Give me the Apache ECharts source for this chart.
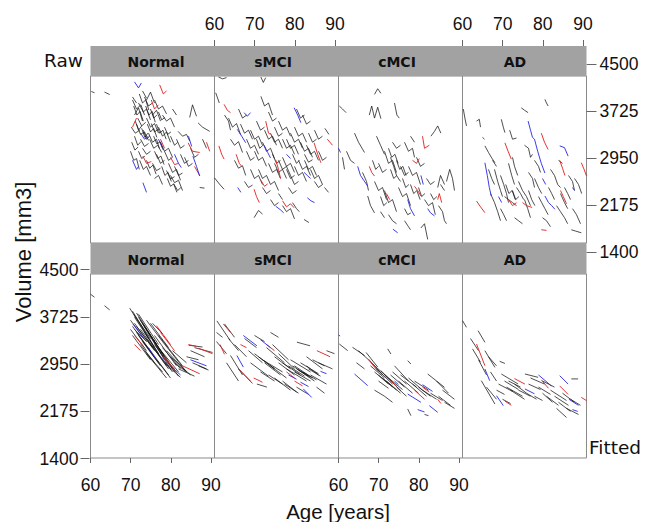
<!DOCTYPE html>
<html><head><meta charset="utf-8">
<script src="https://cdn.jsdelivr.net/npm/echarts@6/dist/echarts.min.js"></script>
<style>html,body{margin:0;padding:0;background:#fff}#c{width:648px;height:522px}</style>
</head><body><div id="c"></div>
<script>
// ---------------- data ----------------
const groups = ['Normal', 'sMCI', 'cMCI', 'AD'];
const rowLabels = ['Raw', 'Fitted'];
const xTickValues = [60, 70, 80, 90];
const yTickValues = [1400, 2175, 2950, 3725, 4500];
const xTitle = 'Age [years]';
const yTitle = 'Volume [mm3]';

// each trajectory: [age, volume, age, volume, ...]
const rawNormalK = [
 [60.2,4090,61.0,4070],[63.5,4080,64.8,4040],[70.5,3950,71.5,3800,72.6,3870,73.5,3700],
 [71.0,3700,72.0,3820,73.0,3600],[72.0,3900,73.2,3750,74.0,3800,75.0,3620],[73.5,4000,74.5,3850,75.5,3900],
 [74.0,3650,75.0,3500,76.0,3560,77.0,3400],[70.2,3500,71.2,3400,72.3,3450],[71.5,3550,72.5,3380,73.5,3420,74.5,3280],
 [75.5,3700,76.5,3780,77.5,3600],[76.0,3950,77.0,3800,78.0,3850,79.0,3720],[72.5,3300,73.5,3180,74.5,3230],
 [77.0,3500,78.0,3350,79.0,3420,80.0,3250],[74.5,3400,75.5,3250,76.5,3300,77.2,3150],[73.0,3150,74.0,3050,75.0,3100],
 [70.0,3100,70.8,2950,71.5,2980,72.2,2800],[72.3,2950,73.2,2800,74.0,2850,75.0,2700],[75.5,2900,76.5,2780,77.5,2820],
 [76.0,2650,77.0,2700,78.0,2550],[79.5,2900,80.5,2750,81.5,2800,82.5,2620],[80.0,2700,81.0,2580,82.0,2620,83.0,2450],
 [81.0,2850,82.0,2700,83.0,2740],[78.5,3100,79.5,2950,80.5,3000],[81.9,3430,83.0,3350,84.0,3380,84.8,3270],
 [84.8,3660,85.5,3870,86.5,3680],[86.9,3570,88.0,3500,89.8,3430],[87.3,2500,88.5,2490],[82.5,3050,83.5,2900,84.5,2950],
 [85.0,3150,86.0,3000,87.0,3050],[78.0,3700,79.0,3600,80.0,3650,81.0,3500],[74.0,3950,75.0,4080,76.0,3900],
 [73.0,4100,74.0,3980],[80.5,3800,81.5,3700],[77.5,3250,78.5,3100,79.5,3150,80.5,3000],[83.5,3000,84.5,2850,85.5,2900],
 [76.5,3050,77.5,2900,78.5,2950],[71.8,3650,72.8,3520,73.8,3580],[74.8,3300,75.8,3150,76.8,3200,77.8,3080],
 [88.0,3300,89.0,3150],[70.5,4000,71.5,3900],[72.8,3480,73.6,3330,74.3,3400],[75.2,3560,76.0,3420,77.0,3470],
 [79.0,2780,80.0,2640,81.0,2680],[80.8,2560,81.8,2450,82.6,2500],
 [70.8,3850,71.6,3700,72.4,3760,73.2,3600],[71.2,3600,72.0,3450,72.8,3520],[72.2,4050,73.0,3900,73.8,3950,74.6,3780],
 [73.8,3850,74.6,3700,75.4,3760,76.2,3580],[74.2,3550,75.0,3420,75.8,3480,76.6,3330],[75.0,3800,75.8,3650,76.6,3700],
 [76.5,3550,77.3,3400,78.1,3450,78.9,3300],[71.0,3350,71.8,3200,72.6,3260],[73.2,3450,74.0,3300,74.8,3350],
 [75.8,3350,76.6,3220,77.4,3260,78.2,3120],[77.0,3750,77.8,3620,78.6,3660],[70.3,3250,71.1,3120,71.9,3170],
 [78.5,3500,79.3,3380,80.1,3420],[74.0,2950,74.8,2820,75.6,2870,76.4,2720],[77.8,2850,78.6,2700,79.4,2750,80.2,2600],
 [79.2,2650,80.0,2520,80.8,2560,81.6,2420],[72.0,3100,72.8,2980,73.6,3020],[76.0,3100,76.8,2980,77.6,3020,78.4,2880],
 [81.5,3300,82.5,3150,83.5,3200],[80.0,3350,81.0,3200,81.8,3250]
];
const rawNormalR = [
 [77.3,4200,78.2,4050,79.0,4100],[75.2,3950,76.0,3800,77.0,3870],[73.1,3020,74.0,2900,75.2,2930],
 [84.4,3240,85.5,3100,87.3,3080],[86.0,2850,87.3,2700],[80.0,3000,81.0,2880,82.0,2900],
 [70.5,3500,71.5,3650],[89.0,3250,89.8,3100],[77.5,3300,78.5,3150]
];
const rawNormalB = [
 [71.0,4250,72.0,4150,72.7,4230],[72.5,3400,73.5,3300,74.5,3350],[70.5,2950,71.5,2800,72.0,2850],
 [73.1,2580,74.0,2420],[81.0,3050,82.0,2900,82.7,2830],[85.6,3020,86.5,2850,87.3,2690],
 [84.5,3350,85.3,3180],[77.0,3300,78.0,3150]
];

const rawSmciK = [
 [61,4330,62,4300,63,4320],[71.6,4330,72.2,4240,72.8,4320],[60.3,4070,61.2,3900],
 [63.5,3650,64.5,3500,65.5,3560,66.5,3380],[64,3300,65,3200,66,3260,67,3080],[60,2660,61.2,2560,62.4,2470],
 [65,2950,66,2820,67,2860,67.8,2700],[67.5,2600,68.5,2500,69.5,2540],[71.6,4010,72.5,3850,73.5,3900,74.5,3700],
 [73.5,3750,74.5,3600,75.5,3650],[69,3450,70,3300,71,3350,72,3200],[70,3100,71,2950,72,3000,73,2850],
 [72,3250,73,3100,74,3150,75,2980],[74,3400,75,3250,76,3300,77,3150],[76,3600,77,3450,78,3500,79,3350],
 [78,3300,79,3150,80,3200,81,3050],[80,3500,81,3350,82,3400,83,3250],[82,3700,83,3550,84,3600],
 [83,3200,84,3050,85,3100,86,2950],[81,2950,82,2800,83,2850,84,2700],[84,2800,85,2650,86,2700,87,2550],
 [75,2900,76,2750,77,2800,78,2650],[73,2700,74,2550,75,2600,76,2450],[77,3000,78,2850,79,2900,80,2750],
 [79,2700,80,2550,81,2600],[71,2800,72,2650,73,2700],[69.9,2000,71,2120,72,2060],
 [77,2200,78,2100,79,2150,80,1980],[82.4,1970,83.6,1920],[87.5,2500,88.5,2420],[87.6,3480,88.6,3380],
 [66,3800,67,3650,68,3700],[68,3100,69,2950,70,3000],[74.5,3050,75.5,2900,76.5,2950],[85,3450,86,3300,87,3350],
 [76,2400,77,2300],[62.5,3700,63.5,3600,64,3450],[80.5,3800,81.5,3650,82.5,3700],[86,3100,87,2950,88,3000],
 [70.5,3600,71.5,3450,72.5,3500],[79.5,3050,80.5,2900,81.2,2950],[82.5,3050,83.5,2920,84.5,2960],
 [66.5,3550,67.5,3400,68.5,3450,69.5,3300],[68,3300,69,3150,70,3200,71,3050],[70.5,3300,71.3,3150,72.1,3200],
 [72.5,3450,73.5,3300,74.5,3350,75.5,3200],[75,3500,76,3350,77,3400],[77,3300,78,3150,79,3200,80,3050],
 [79,3400,80,3250,81,3300,82,3150],[81.5,3250,82.5,3100,83.5,3150,84.5,3000],[83.5,3400,84.5,3250,85.5,3300],
 [82.5,2950,83.5,2800,84.5,2850,85.5,2700],[80,2850,81,2700,82,2750,83,2600],[78,2800,79,2650,80,2700],
 [76,2950,77,2800,78,2850,79,2700],[73.5,2900,74.5,2750,75.5,2800,76.5,2650],[72,2500,73,2400,74,2450],
 [69,2800,70,2650,71,2700,72,2550],[85,2600,86,2500,87,2550],[78.5,2500,79.5,2400,80.5,2450],
 [74,2300,75,2200,76,2250],[79.5,2250,80.5,2150,81.2,2100]
];
const rawSmciR = [
 [62.4,3877,63.2,3780,64,3740],[61.1,3190,61.8,3050,62.4,2970],[65.4,3050,66.2,2900,66.8,2850],
 [72.8,3600,73.5,3400,74,3380],[84.9,3240,85.8,3050,86.6,2910],[88.2,3300,89.5,3200],
 [75.3,2960,76,2800,76.5,2650],[71.6,2620,72.5,2520,73.3,2560],[69.9,2470,70.5,2350,71.2,2250],
 [77,2280,78,2180,79,2230,79.9,2165]
];
const rawSmciB = [
 [67.4,3740,68.2,3680,69,3740],[65.7,3463,66.8,3350,67.8,3242],[65.8,2500,66.6,2420],
 [79.9,3822,80.8,3700,81.6,3573],[72.4,3200,73.3,3080,74,2990],[82.4,2750,83.2,2700,84,2650],
 [83.2,2330,84.1,2280,85,2250],[75.3,2190,76.5,2130,77.3,2080],[78,3050,79,2980]
];

const rawCmciK = [
 [69,4043,69.8,4136,70.6,4060],[60.2,3850,61,3800,61.9,3740],[67.7,3700,68.3,3850,69,3650,69.8,3830,70.6,3640],
 [74,3900,74.6,3700,75.2,3650],[83.1,3350,84,3430,84.8,3520,85.6,3400],[64,3400,65,3250,66.5,3080],
 [61,3000,61.5,2800],[69.5,3350,70.5,3200,71.5,3050],[71.5,3100,72.5,2900,73.5,2950,74.5,2750],
 [73,3000,73.8,2850,74.5,2700,75.5,2600],[73.5,3250,74.5,3150,75.5,3200],[76.5,3250,77.5,3100,78.5,3150,79,3000],
 [79.5,3000,80.5,2850,81.5,2900],[77.5,2850,78.5,2700,79.5,2750,80.5,2550],[69,2600,70,2450,71,2500,72,2300],
 [71.5,2450,72.5,2250,73.5,2300,74.5,2100],[75,2500,76,2350,77,2400,78,2200],[67.3,2360,68,2200,69,2080],
 [72.5,2050,73.5,1950,74.5,1900],[80.6,1830,81.5,1900,82.3,1640],[76.5,1950,77.5,1850,78,1800],
 [84.8,2500,85.5,2700,86.5,2550],[87,2600,87.8,2800,88.5,2650,89,2450],[85,2200,86,2100,86.5,1950,87,1900],
 [81.5,2300,82.5,2200,83.5,2250,84.2,2050],[66,2750,67,2600,67.5,2450],[70,2900,71,2750,72,2800],
 [75.5,2850,76.5,2700,77.5,2750],[82,2650,83,2550,84,2600],[62,3100,63,2950,64,2900],[78,3350,79,3250],
 [70.5,2100,71.5,2000],
 [72.5,3150,73.3,3000,74.1,3050,74.9,2900],[74.5,2950,75.3,2800,76.1,2850,76.9,2700],[73,2800,73.8,2650,74.6,2700],
 [76,2650,76.8,2500,77.6,2550],[78,2550,78.8,2400,79.6,2450,80.4,2300],[80,2500,80.8,2350,81.6,2400],
 [83,2400,83.8,2300,84.6,2350],[70.5,2350,71.3,2200,72.1,2250],[85.5,2550,86.5,2450],
 [76.5,2150,77.3,2050,78.1,2080],[68.5,2950,69.3,2800,70,2850]
];
const rawCmciR = [
 [81,3350,81.5,3150,82.7,3200],[78.5,2950,79.5,2900,80.2,2980],[67.7,2850,68.3,2750,69,2690],
 [79,2520,79.8,2450,80.6,2360],[84.8,2300,85.2,2400,85.8,2250],[72,2400,72.8,2300]
];
const rawCmciB = [
 [64.8,2850,65.5,2700,66.3,2620,67.3,2525],[80.6,2700,81.2,2550],[77.3,2300,78,2150,79,2030],
 [82.3,2150,83,2080,84,2030],[73.6,1810,74.8,1750],[60,3150,60.5,3080]
];

const rawAdK = [
 [60.2,3800,60.6,3650,61,3520],[63.5,3600,64.2,3630,64.5,3500],[65,3330,65.5,3300],[74.7,3820,75.5,3780,76.4,3740],
 [80.6,3960,81,3900,81.4,3850],[69.7,3630,70.2,3500,70.6,3410],[71.8,3450,72.5,3300,73.5,3320],
 [65.6,3190,66.5,3080,67.3,2990,68.1,2910],[75.5,3200,76.5,3150,77,3000,77.5,3050],[72.5,3000,73,2850,73.8,2700],
 [68,2800,68.8,2600,69.5,2450,70,2350],[69.5,2700,70.3,2550,71,2400,71.5,2250],[71.5,2900,72.3,2700,73,2550],
 [67,2400,68,2250,68.8,2100,69.5,1950],[70.5,2350,71.5,2300,72.5,2250,73.5,2200],[74,2600,75,2450,76,2350,77,2200],
 [75.5,2300,76.3,2150,77,2000],[78,2650,79,2500,79.8,2400],[82,2800,83,2700,83.8,2550,84.5,2500],
 [84.5,2400,85.5,2250,86.3,2150],[83.5,2200,84.5,2100,85.5,2000,86.3,1900],[87.5,2150,88.5,2050,89.5,1900],
 [87.2,1800,88.2,1780,89.7,1750],[80,2000,81,1950,82,1850],[73,2000,74,1950,75,1900],[78,2950,79,2850,79.5,2750],
 [86.5,2700,87.5,2600,88,2450],[84,2950,85,2900],[67.5,2950,68.5,2850],[76.5,2750,77.5,2650,78,2500],
 [70.8,2550,71.6,2400,72.4,2450,73.2,2300],[72.5,2450,73.3,2300,74.1,2350],[76.5,2450,77.3,2300,78.1,2200],
 [79,2350,79.8,2250,80.6,2150,81.4,2050],[81.5,2500,82.3,2400,83,2300],[85.5,2500,86.3,2400,87,2300],
 [66.5,2800,67.3,2650,68,2550],[69.5,2150,70.3,2050,71,1950],[73.5,2500,74.5,2400,75.3,2300],
 [88,2650,89,2550,89.8,2400]
];
const rawAdR = [
 [79.7,3400,80.5,3250,81.4,3130],[70.6,3240,71.4,3100,72.2,2970],[84.3,2950,85,2820,85.6,2700],
 [89.7,2910,90.4,2800,91,2690],[63.5,2276,64.5,2180,65.6,2083],[71.5,2300,72.5,2200,73.5,2250],
 [75,2250,76,2200,77.4,2170],[84.5,2450,85.2,2350,86,2230],[79.7,1800,81,1790]
];
const rawAdB = [
 [76.4,3600,77,3450,77.5,3330,78,3300],[84.3,3190,85.5,3160,86.4,3020],[78,3300,78.8,3100,79.7,2900,80.6,2740],
 [65.6,2910,66.2,2700,66.7,2500,67.2,2360],[80.6,2360,81.5,2250,82.3,2200,83.1,2140],[87.5,2500,88,2450],
 [69,2350,69.8,2250],[80,2650,80.8,2550]
];

const fitNormalK = [
 [60,4130,61,4080],[63.5,3940,64.8,3870],[69.8,3900,76,3250],[70.5,3850,77,3150],[71.5,3820,78,3150],
 [72,3750,78.5,3050],[71,3650,76,3200],[70,3550,74,3200],[70.5,3450,75,3050],[72.5,3550,79,2950],
 [73.5,3600,80,2900],[74.5,3500,81,2850],[75.5,3400,82,2780],[76,3300,80.5,2900],[73,3350,77.5,2950],
 [77,3450,83,2950],[78,3350,84,2850],[79,3200,83.5,2880],[74,3150,79,2750],[76.5,3050,80,2750],
 [78.5,3000,82.5,2760],[84.5,3290,88,3260],[85,3200,88.5,3100],[84,3100,87,3050],[85.5,3000,89,2900],
 [86,3250,90.5,3170],[72,3800,77,3300],[74,3700,78,3350],[80,3100,85,2800],[81,3000,84,2850],
 [82,2900,86,2780],[87,2950,89.5,2880],[75,3650,79.5,3250],[71,3750,74.5,3400],[72.5,3700,76.5,3300],
 [73.5,3500,77.5,3100],[71.5,3600,75.5,3250],
 [70,3700,74,3350],[70.5,3600,75.5,3150],[71.5,3500,76.5,3050],[72,3450,77,3000],[73,3650,78.5,3100],
 [74,3400,79.5,2900],[75,3300,80.5,2850],[76,3450,81.5,2950],[77,3250,82,2850],[73.5,3200,78,2850],
 [75.5,3150,79.5,2800],[72.5,3300,76,3000],[78,3250,82.5,2900],[80.5,3200,84,3000],[70.8,3800,75,3400]
];
const fitNormalR = [
 [76.5,3610,80,3300],[77.5,3500,81,3200],[71,3450,73.5,3250],[84.5,3300,86.5,3270],[87,3240,90.5,3150],
 [83,2950,87.3,2820],[78,3100,81,2900],[71,3300,72.5,3200]
];
const fitNormalB = [
 [70.6,3640,73.1,3420],[71,3550,74,3350],[75.5,3650,78,3480],[77.5,3100,79.5,2950],[85,3050,89,2950],
 [80,2950,82.5,2800],[74.5,3250,76.5,3050]
];

const fitSmciK = [
 [60.6,3690,63.9,3370],[62.5,3640,65,3420],[60.5,3500,62,3420],[60.5,3350,63,3150],[64,3120,67,2800],
 [63,3000,66,2700],[66,2900,69.5,2660],[69,3000,73.5,2780],[70,3150,75,2900],[72,3050,77,2850],
 [73,3250,77.5,3000],[74.5,3300,78.5,3050],[76,3150,80,2900],[77,3000,81.5,2800],[78,2900,83,2700],
 [79,3050,84,2850],[80,2950,84.5,2750],[81,2880,85,2700],[81.5,3000,86,2820],[80.6,3340,83.9,3280],
 [83,3100,87,2900],[86,3000,89.5,2900],[84,2800,88,2650],[70.6,2650,73.1,2600],[75,2750,79,2550],
 [77,2700,80.5,2520],[67.5,3400,70.5,3250],[70,3450,72.5,3350],[74,3500,76,3420],[83,2950,86,2800],
 [85.5,2600,87.5,2500],[88,3200,90,3150],[71.5,2850,75,2700],[79.5,2950,83.5,2780],[80.5,2900,84,2760],
 [68.5,3200,72,3000],[71,3100,75,2900],[72.5,3000,76.5,2800],[74,2950,78,2750],[75,3100,79,2900],
 [76,3000,80,2800],[78.5,2950,82.5,2780],[80,2850,84,2700],[82,2850,85.5,2720],[83.5,2900,86.5,2780],
 [84.5,3050,87.5,2950],[73.5,2800,77,2650],[77.5,2650,81,2500],[80.5,2600,83.5,2480],[65,3300,68,3100],
 [63.5,3400,66,3200]
];
const fitSmciR = [
 [62.2,3640,64,3500],[61.4,3300,62.5,3140],[66,2900,69,2700],[66.5,3300,68,3250],[85.6,3200,88.9,3100],
 [69.8,2750,72,2680],[73,3300,75,3200],[78,2850,80,2750],[80,2700,82,2620]
];
const fitSmciB = [
 [65.6,3120,67.2,2930],[67.2,3450,70.6,3280],[71.5,3380,74,3250],[82.2,2570,84.3,2430],[86.5,2860,88,2820],
 [78.5,2800,80.5,2730],[81.5,2680,83.5,2610]
];

const fitCmciK = [
 [60.2,3310,62.3,3200],[63.5,3255,66.5,3120],[72.3,3230,73.1,3145],[66.9,3170,69.8,2930],[67.5,3060,71,2800],
 [68.5,2980,72.5,2750],[69.5,2900,73.5,2650],[70.6,2870,74,2650],[71.5,2800,75.6,2541],[72.5,2750,76,2560],
 [73.5,2850,77,2650],[74,2950,77.5,2700],[75.5,2800,79.5,2600],[77.3,3035,78.1,2980],[77.5,2750,81,2550],
 [78.5,2650,82,2450],[69,2550,71.5,2450],[71.5,2450,73.5,2350],[82.3,2816,86.5,2596],[84.5,2700,87.5,2500],
 [85,2450,88,2300],[86,2550,89,2400],[77.3,2240,78.1,2130],[81.5,2150,82.5,2130],[76.5,2700,80,2500],
 [80,2600,83,2450],[74.5,2600,77,2450],[70,2700,72.5,2580],[65,3200,67.5,3050],
 [68,2950,71.5,2750],[69,2850,72.5,2650],[70,2800,73.5,2600],[71,2750,74.5,2550],[72,2700,75.5,2500],
 [73,2800,76.5,2600],[75,2700,78.5,2500],[79,2700,82.5,2550],[81,2550,84.5,2400],[83,2500,86,2380],
 [64.5,3000,66.5,2900],[86.5,2350,89,2250]
];
const fitCmciR = [
 [67.5,3050,70,2850],[79,2550,81.5,2400],[81,2600,82.7,2520],[84.8,2400,85.6,2330],[73,2700,74.5,2620]
];
const fitCmciB = [
 [60,3460,60.4,3440],[64,2816,67.3,2624],[81,2640,83.5,2530],[77.3,2486,80.6,2350],[82.7,2295,84.8,2185],
 [79.8,2230,81.5,2190],[74,2700,75,2640]
];

const fitAdK = [
 [60,3694,61,3584],[63.9,3529,65.6,3337],[62.5,3230,64.5,3010],[65.6,3200,68.1,2925],[66.5,3100,68.5,2950],
 [64.7,2706,68.1,2322],[66,2600,68.5,2400],[69.3,3024,70.6,2990],[69.7,2816,73.9,2651],[70.5,2700,74,2560],
 [71,2600,75,2450],[72,2550,75.5,2400],[73,2650,76,2500],[75.6,2816,78.9,2761],[77,2750,80.5,2650],
 [79,2600,82,2480],[80,2500,82.5,2350],[82,2550,86,2380],[83,2450,86.5,2300],[84,2350,87,2200],
 [83.5,2250,86,2100],[87.2,2735,88.9,2735],[87,2400,89.5,2300],[70,2400,72,2330],[76,2500,78.5,2400],
 [78,2450,80,2380],[68.5,2550,70.5,2480],
 [62,3400,64,3200],[64,3050,66,2800],[67,2850,68.5,2700],[69,2650,72.5,2530],[71.5,2700,74.5,2600],
 [74,2550,77,2450],[76.5,2650,79.5,2560],[80,2700,83,2600],[81,2450,84,2300],[85,2500,88,2350],[86,2250,89,2150]
];
const fitAdR = [
 [63.5,3310,65.6,2953],[70.6,2370,72.2,2300],[73,2740,75.6,2650],[79.7,2720,81.5,2580],[84.3,2620,86.4,2480],
 [89.7,2432,91,2377]
];
const fitAdB = [
 [65.6,2898,66.8,2706],[68.5,2459,70.2,2295],[75.6,2570,78,2490],[79,2800,82.2,2620],[84.3,2788,86.4,2651],
 [86.6,2400,89,2300],[87.5,2230,88.8,2200]
];

// ---------------- layout ----------------
const panels = [
  [rawNormalK, rawNormalR, rawNormalB], [rawSmciK, rawSmciR, rawSmciB],
  [rawCmciK, rawCmciR, rawCmciB], [rawAdK, rawAdR, rawAdB],
  [fitNormalK, fitNormalR, fitNormalB], [fitSmciK, fitSmciR, fitSmciB],
  [fitCmciK, fitCmciR, fitCmciB], [fitAdK, fitAdR, fitAdB]
];
const colL = [90.5, 214.5, 338.5, 462.5];
const colW = 124;
const rowTop = [76, 274], rowH = [167, 184];
const rowRange = [[1581, 4347], [1433, 4462]];
const lineColors = ['rgba(20,20,20,0.75)', 'rgba(225,30,30,0.9)', 'rgba(40,40,225,0.9)'];
const FONT = 'Liberation Sans, Arial, sans-serif';

function toLine(trajs) {
  const out = [];
  trajs.forEach(t => {
    for (let i = 0; i < t.length; i += 2) out.push([t[i], t[i + 1]]);
    out.push(['-', '-']);
  });
  return out;
}

const grid = [], xAxis = [], yAxis = [], series = [];
panels.forEach((p, i) => {
  const r = Math.floor(i / 4), c = i % 4;
  grid.push({left: colL[c], top: rowTop[r], width: colW, height: rowH[r], show: true,
    borderColor: '#8a8a8a', borderWidth: 1, backgroundColor: '#fff'});
  xAxis.push({type: 'value', gridIndex: i, min: 60, max: 91, show: false});
  yAxis.push({type: 'value', gridIndex: i, min: rowRange[r][0], max: rowRange[r][1], show: false});
  p.forEach((trajs, k) => {
    series.push({type: 'line', xAxisIndex: i, yAxisIndex: i, data: toLine(trajs), connectNulls: false,
      showSymbol: false, symbol: 'none', silent: true, animation: false, clip: true,
      lineStyle: {color: lineColors[k], width: 1}});
  });
});

const tickLab = {color: '#111', fontSize: 17.5, fontFamily: FONT};
[[1, 'top', 46], [3, 'top', 46], [0, 'bottom', 458], [2, 'bottom', 458]].forEach(([c, pos, y]) => {
  const gi = grid.length;
  grid.push({left: colL[c], top: pos === 'top' ? y : y - 1, width: 120.4, height: 1, show: false});
  xAxis.push({type: 'value', gridIndex: gi, position: pos, min: 60, max: 90, interval: 10,
    axisLine: {show: false}, splitLine: {show: false},
    axisTick: {show: true, length: pos === 'top' ? 7 : 5, lineStyle: {color: '#666'}},
    axisLabel: Object.assign({margin: pos === 'top' ? 13 : 18,
      formatter: v => xTickValues.includes(v) ? String(v) : ''}, tickLab)});
  yAxis.push({type: 'value', gridIndex: gi, show: false, min: 0, max: 1});
});
[[0, 'right', 586.5, 64, 188], [1, 'left', 90.5, 269.5, 189]].forEach(([r, pos, x, top, h]) => {
  const gi = grid.length;
  grid.push({left: pos === 'right' ? x : x - 1, top: top, width: 1, height: h, show: false});
  xAxis.push({type: 'value', gridIndex: gi, show: false, min: 0, max: 1});
  yAxis.push({type: 'value', gridIndex: gi, position: pos, min: 0, max: 3100, interval: 775,
    axisLine: {show: false}, splitLine: {show: false},
    axisTick: {show: true, length: pos === 'right' ? 10 : 9, lineStyle: {color: '#666'}},
    axisLabel: Object.assign({margin: pos === 'right' ? 12 : 11, padding: [5, 0, 0, 0],
      formatter: v => String(yTickValues[Math.round(v / 775)])}, tickLab)});
});

const stripY = [[46, 30], [243, 31]];
const stripLabelX = [156, 273, 397, 515];
const graphic = [];
stripY.forEach(([y, h], r) => {
  graphic.push({type: 'rect', z: 100, shape: {x: 90.5, y: y, width: 496, height: h},
    style: {fill: '#a2a2a2'}});
  groups.forEach((g, c) => {
    graphic.push({type: 'text', z: 101, x: stripLabelX[c], y: y + h / 2 + 1,
      style: {text: g, fill: '#111', font: 'bold 14px "DejaVu Sans", sans-serif',
        textAlign: 'center', textVerticalAlign: 'middle'}});
  });
});
graphic.push({type: 'text', z: 101, x: 83, y: 60, style: {text: rowLabels[0], fill: '#111',
  font: '18.5px "DejaVu Sans", sans-serif', textAlign: 'right', textVerticalAlign: 'middle'}});
graphic.push({type: 'text', z: 101, x: 589, y: 447, style: {text: rowLabels[1], fill: '#111',
  font: '18.5px "DejaVu Sans", sans-serif', textAlign: 'left', textVerticalAlign: 'middle'}});
graphic.push({type: 'text', z: 101, x: 338, y: 511, style: {text: xTitle, fill: '#111',
  font: '20.5px "Liberation Sans", Arial, sans-serif', textAlign: 'center', textVerticalAlign: 'middle'}});
graphic.push({type: 'text', z: 101, x: 23, y: 252, rotation: Math.PI / 2, style: {text: yTitle, fill: '#111',
  font: '22px "Liberation Sans", Arial, sans-serif', textAlign: 'center', textVerticalAlign: 'middle'}});

const chart = echarts.init(document.getElementById('c'), null, {renderer: 'svg', width: 648, height: 522});
chart.setOption({animation: false, backgroundColor: '#fff', grid, xAxis, yAxis, series, graphic});
</script>
</body></html>
